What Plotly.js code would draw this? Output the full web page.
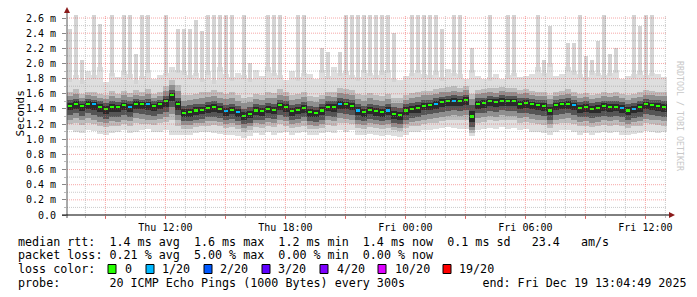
<!DOCTYPE html>
<html><head><meta charset="utf-8">
<script src="https://cdn.plot.ly/plotly-3.0.1.min.js"></script>
<style>html,body{margin:0;padding:0;background:#fff}#c{width:697px;height:297px}</style>
</head><body><div id="c"></div>
<script>
// ---- data (ms), 100 bins of 18 minutes, Thu 07:04:49 -> Fri 13:04:49 ----
const startTime = '2025-12-18T07:04:49Z';
const binMinutes = 18;
const median = [
1.44,1.47,1.44,1.47,1.46,1.42,1.40,1.43,1.42,1.45,
1.43,1.47,1.46,1.46,1.44,1.46,1.50,1.58,1.46,1.35,
1.36,1.38,1.39,1.41,1.42,1.40,1.37,1.39,1.36,1.31,
1.33,1.38,1.37,1.40,1.39,1.45,1.42,1.37,1.39,1.41,
1.36,1.35,1.38,1.43,1.42,1.47,1.46,1.44,1.38,1.36,
1.39,1.37,1.36,1.38,1.33,1.32,1.38,1.40,1.41,1.44,
1.45,1.47,1.49,1.50,1.51,1.50,1.52,1.30,1.47,1.48,
1.50,1.49,1.51,1.50,1.50,1.47,1.48,1.46,1.45,1.44,
1.38,1.45,1.46,1.47,1.45,1.41,1.42,1.40,1.41,1.44,
1.42,1.43,1.41,1.38,1.40,1.42,1.46,1.45,1.44,1.43];
const lossCount = [
0,0,0,0,1,0,0,0,0,0,
1,0,0,1,0,0,0,0,0,0,
0,0,0,0,0,0,1,0,1,0,
0,0,0,0,0,0,0,0,0,0,
0,0,0,0,0,1,0,0,1,0,
0,0,0,1,0,0,0,0,0,0,
0,1,0,0,1,0,0,0,0,0,
0,0,0,0,0,0,0,0,0,0,
0,0,0,0,1,0,0,0,0,0,
0,0,1,0,1,0,0,0,0,0];
const coreHi = [
1.52,1.53,1.50,1.53,1.52,1.50,1.48,1.51,1.49,1.52,
1.50,1.53,1.52,1.53,1.50,1.52,1.57,1.65,1.55,1.44,
1.45,1.46,1.47,1.49,1.50,1.48,1.45,1.47,1.44,1.40,
1.42,1.46,1.45,1.48,1.47,1.52,1.50,1.45,1.47,1.49,
1.44,1.43,1.46,1.50,1.50,1.54,1.53,1.52,1.46,1.44,
1.47,1.45,1.44,1.46,1.42,1.41,1.46,1.48,1.49,1.52,
1.52,1.54,1.56,1.57,1.58,1.57,1.59,1.45,1.54,1.55,
1.57,1.56,1.58,1.57,1.57,1.54,1.55,1.53,1.52,1.52,
1.47,1.52,1.53,1.54,1.52,1.49,1.50,1.48,1.49,1.51,
1.50,1.51,1.49,1.46,1.48,1.50,1.53,1.52,1.52,1.51];
const coreLo = [
1.32,1.34,1.31,1.34,1.32,1.29,1.27,1.30,1.29,1.32,
1.30,1.34,1.33,1.32,1.31,1.33,1.36,1.42,1.32,1.24,
1.24,1.26,1.27,1.29,1.30,1.28,1.25,1.27,1.24,1.20,
1.22,1.26,1.25,1.28,1.27,1.32,1.30,1.25,1.27,1.29,
1.24,1.23,1.26,1.31,1.30,1.34,1.33,1.32,1.26,1.24,
1.27,1.25,1.24,1.26,1.21,1.20,1.26,1.28,1.29,1.32,
1.33,1.34,1.36,1.37,1.38,1.37,1.38,1.16,1.34,1.35,
1.37,1.36,1.38,1.37,1.37,1.34,1.35,1.33,1.32,1.31,
1.26,1.32,1.33,1.34,1.32,1.29,1.30,1.28,1.29,1.31,
1.30,1.31,1.29,1.26,1.28,1.30,1.33,1.32,1.31,1.30];
const midHi = [
1.62,1.66,1.60,1.63,1.62,1.60,1.58,1.64,1.60,1.64,
1.61,1.65,1.63,1.66,1.60,1.62,1.70,1.78,1.72,1.58,
1.58,1.60,1.62,1.63,1.65,1.62,1.60,1.62,1.58,1.55,
1.56,1.60,1.58,1.62,1.61,1.66,1.63,1.58,1.60,1.62,
1.57,1.56,1.59,1.63,1.62,1.67,1.66,1.65,1.60,1.58,
1.61,1.58,1.57,1.60,1.55,1.54,1.58,1.61,1.62,1.64,
1.64,1.66,1.68,1.69,1.70,1.68,1.70,1.60,1.65,1.66,
1.68,1.67,1.69,1.68,1.68,1.65,1.66,1.64,1.63,1.63,
1.58,1.63,1.64,1.66,1.63,1.60,1.61,1.59,1.60,1.62,
1.61,1.62,1.60,1.58,1.60,1.62,1.65,1.64,1.63,1.62];
const midLo = [
1.20,1.22,1.19,1.22,1.20,1.17,1.16,1.18,1.17,1.20,
1.18,1.21,1.20,1.20,1.19,1.21,1.23,1.25,1.18,1.14,
1.14,1.16,1.17,1.18,1.19,1.17,1.15,1.16,1.14,1.10,
1.12,1.16,1.15,1.17,1.16,1.20,1.18,1.15,1.16,1.18,
1.14,1.13,1.15,1.19,1.18,1.22,1.21,1.20,1.15,1.14,
1.16,1.15,1.14,1.15,1.12,1.11,1.15,1.17,1.18,1.20,
1.21,1.22,1.24,1.25,1.26,1.25,1.26,1.08,1.22,1.23,
1.25,1.24,1.26,1.25,1.25,1.22,1.23,1.21,1.20,1.19,
1.15,1.20,1.21,1.22,1.20,1.17,1.18,1.16,1.17,1.19,
1.18,1.19,1.17,1.15,1.17,1.18,1.21,1.20,1.19,1.18];
const minRtt = [
1.12,1.10,1.08,1.12,1.11,1.07,1.06,1.08,1.10,1.12,
1.08,1.10,1.12,1.14,1.09,1.10,1.12,1.06,1.06,1.05,
1.06,1.08,1.09,1.10,1.08,1.07,1.05,1.06,1.04,1.02,
1.04,1.08,1.06,1.09,1.05,1.08,1.10,1.06,1.08,1.10,
1.06,1.05,1.08,1.10,1.08,1.12,1.10,1.12,1.06,1.05,
1.07,1.06,1.04,1.05,1.04,1.03,1.06,1.09,1.10,1.12,
1.12,1.14,1.15,1.16,1.15,1.14,1.13,1.04,1.12,1.13,
1.15,1.14,1.16,1.14,1.15,1.12,1.13,1.10,1.09,1.08,
1.06,1.10,1.12,1.12,1.10,1.06,1.08,1.06,1.08,1.10,
1.08,1.09,1.06,1.05,1.07,1.08,1.11,1.10,1.08,1.09];
const lightTop = [
1.80,1.85,1.78,1.90,1.85,1.95,1.75,1.88,1.82,1.90,
1.86,1.78,1.84,1.92,1.80,1.85,1.88,1.95,1.92,1.90,
1.85,1.88,1.80,1.90,1.78,1.95,1.86,1.82,1.88,1.85,
1.80,1.92,1.84,1.95,1.88,1.85,1.78,1.90,1.82,1.88,
1.86,1.80,1.92,1.84,1.95,1.88,1.90,1.85,1.82,1.92,
1.88,1.85,1.90,1.92,1.80,1.78,1.84,1.88,1.92,1.86,
1.85,1.90,1.82,1.93,1.88,1.86,1.80,1.92,1.84,1.80,
1.82,1.86,1.80,1.85,1.88,1.82,1.84,1.86,1.95,1.88,
2.00,1.84,1.86,1.95,1.90,1.86,1.82,1.90,1.88,1.85,
1.88,1.92,1.80,1.84,1.86,1.90,1.85,1.88,1.86,1.82];
const maxRtt = [
2.45,2.64,2.05,0,2.64,2.52,0,2.64,0,2.64,
2.64,2.12,2.64,2.64,0,0,2.64,1.92,2.45,2.45,
2.45,2.58,2.43,2.64,2.64,2.64,2.64,2.64,0,2.64,
2.00,0,0,2.64,2.64,2.64,0,0,2.64,2.64,
0,0,2.20,2.15,0,2.15,2.64,2.64,2.64,2.64,
2.64,2.64,2.64,2.64,2.40,0,0,2.64,2.64,2.64,
2.64,2.64,2.45,1.93,2.64,2.64,0,2.20,0,0,
2.64,0,0,2.64,2.64,0,0,0,2.64,2.05,
2.50,0,0,2.27,2.27,2.64,2.10,2.05,2.30,2.64,
2.12,2.20,0,0,2.64,2.50,2.64,2.64,0,0];
const yTickVals = [0,0.2,0.4,0.6,0.8,1.0,1.2,1.4,1.6,1.8,2.0,2.2,2.4,2.6];
const yTickText = ['0.0','0.2 m','0.4 m','0.6 m','0.8 m','1.0 m','1.2 m','1.4 m','1.6 m','1.8 m','2.0 m','2.2 m','2.4 m','2.6 m'];
const xTickTimes = ['2025-12-18 09:00','2025-12-18 12:00','2025-12-18 15:00','2025-12-18 18:00','2025-12-18 21:00',
                    '2025-12-19 00:00','2025-12-19 03:00','2025-12-19 06:00','2025-12-19 09:00','2025-12-19 12:00'];
const xTickText = ['','Thu 12:00','','Thu 18:00','','Fri 00:00','','Fri 06:00','','Fri 12:00'];
const lossLabels = ['0','1/20','2/20','3/20','4/20','10/20','19/20'];
const lossColors = ['#26ff00','#00b8ff','#0059ff','#5e00ff','#7e00ff','#dd00ff','#ff0000'];
const legendLines = [
 'median rtt:  1.4 ms avg  1.6 ms max  1.2 ms min  1.4 ms now  0.1 ms sd   23.4   am/s',
 'packet loss: 0.21 % avg  5.00 % max  0.00 % min  0.00 % now',
 'loss color:',
 'probe:       20 ICMP Echo Pings (1000 Bytes) every 300s           end: Fri Dec 19 13:04:49 2025'];

// ---- layout helpers (pixel geometry) ----
const W=697,H=297,L=67,R=30,T=15,B=82, PW=W-L-R, PH=H-T-B;
const px = x => (x-L)/PW, py = y => (T+PH-y)/PH;
const t0 = Date.parse(startTime), binMs = binMinutes*60000, spanMs = 30*3600000;
const fmt = ms => new Date(ms).toISOString().slice(0,19).replace('T',' ');
const xs = median.map((_,i)=>fmt(t0+(i+0.5)*binMs));
const sub = (a,b)=>a.map((v,i)=>v-b[i]);
const avg = (a,b)=>a.map((v,i)=>(v+b[i])/2);
const mono = 'DejaVu Sans Mono';

const lossIdx = c => c===0?0:(c<=1?1:(c<=2?2:(c<=3?3:(c<=5?4:(c<=10?5:6)))));
const spikeX=[],spikeBase=[],spikeH=[];
maxRtt.forEach((v,i)=>{ if(v>lightTop[i]){spikeX.push(xs[i]);spikeBase.push(lightTop[i]-0.05);spikeH.push(v-lightTop[i]+0.05);} });

const bar = (x,lo,hi,color,w)=>({type:'bar',x:x,base:lo,y:sub(hi,lo),width:w,marker:{color:color,line:{width:0}},hoverinfo:'skip',showlegend:false});
const midUp = avg(midHi,coreHi), midDn = avg(midLo,coreLo);
const coreUp = avg(coreHi,median), coreDn = avg(coreLo,median);
const traces = [
 bar(xs,minRtt,lightTop,'#dedede',binMs),
 {type:'bar',x:spikeX,base:spikeBase,y:spikeH,width:binMs*0.6,marker:{color:'#d4d4d4',line:{width:0}},hoverinfo:'skip',showlegend:false},
 bar(xs,midLo,midHi,'#bcbcbc',binMs),
 bar(xs,midDn,midUp,'#8f8f8f',binMs),
 bar(xs,coreLo,coreHi,'#555555',binMs),
 bar(xs,coreDn,coreUp,'#2a2a2a',binMs),
 {type:'bar',x:xs,base:median.map(v=>v-0.014),y:median.map(()=>0.028),width:binMs*0.7,marker:{color:lossCount.map(c=>lossColors[lossIdx(c)]),line:{width:0}},hoverinfo:'skip',showlegend:false}
];

const ann=[], shapes=[];
// grid drawn above the smoke, like rrdtool
const RED='rgba(235,60,60,0.45)', GRAY='rgba(140,140,140,0.45)', DOT='1px,1px';
for(let k=1;k<=26;k++){ const v=k*0.1; const major = k%2===0;
  shapes.push({type:'line',layer:'above',xref:'paper',yref:'y',x0:0,x1:1,y0:v,y1:v,line:{color:major?RED:GRAY,width:1,dash:DOT}}); }
const hr0 = Date.parse('2025-12-18T08:00:00Z');
for(let h=0; hr0+h*3600000 < t0+spanMs; h++){ const t=hr0+h*3600000; const major=((8+h)%3===0);
  shapes.push({type:'line',layer:'above',xref:'x',yref:'paper',x0:fmt(t),x1:fmt(t),y0:0,y1:1,line:{color:major?RED:GRAY,width:1,dash:DOT}}); }

const lineY=[241.5,255,269,282.7];
legendLines.forEach((t,i)=>ann.push({xref:'paper',yref:'paper',x:px(16),y:py(lineY[i]),xanchor:'left',yanchor:'middle',showarrow:false,text:t,font:{family:mono,size:11.7,color:'#000'}}));
const boxX=[108,146,204,262,320,378,443], labX=[123,160,218,276,335,393,457];
lossLabels.forEach((t,i)=>{
  shapes.push({type:'rect',xref:'paper',yref:'paper',x0:px(boxX[i]),x1:px(boxX[i]+8),y0:py(264.5),y1:py(273.5),fillcolor:lossColors[i],line:{color:'#000',width:1}});
  ann.push({xref:'paper',yref:'paper',x:px(labX[i]),y:py(269),xanchor:'left',yanchor:'middle',showarrow:false,text:t,font:{family:mono,size:11.7,color:'#000'}});
});
ann.push({xref:'paper',yref:'paper',x:px(11),y:py(114),textangle:-90,showarrow:false,text:'Seconds',font:{family:mono,size:11,color:'#000'}});
ann.push({xref:'paper',yref:'paper',x:px(687),y:py(59),textangle:90,showarrow:false,text:'RRDTOOL / TOBI OETIKER',font:{family:mono,size:8.3,color:'#c8c8c8'}});
// axis lines + arrows
shapes.push({type:'line',layer:'above',xref:'paper',yref:'paper',x0:px(67),x1:px(67),y0:py(218),y1:py(11),line:{color:'#555',width:1}});
shapes.push({type:'line',layer:'above',xref:'paper',yref:'paper',x0:px(62),x1:px(670),y0:py(215),y1:py(215),line:{color:'#000',width:1}});
shapes.push({type:'path',xref:'paper',yref:'paper',path:`M ${px(64)} ${py(13)} L ${px(70)} ${py(13)} L ${px(67)} ${py(7)} Z`,fillcolor:'#8b1a1a',line:{width:0}});
shapes.push({type:'path',xref:'paper',yref:'paper',path:`M ${px(669)} ${py(212)} L ${px(669)} ${py(218)} L ${px(675)} ${py(215)} Z`,fillcolor:'#8b1a1a',line:{width:0}});

const layout = {
  width:W,height:H,margin:{l:L,r:R,t:T,b:B},paper_bgcolor:'#fff',plot_bgcolor:'#fff',
  barmode:'overlay',bargap:0,showlegend:false,
  xaxis:{type:'date',range:[fmt(t0),fmt(t0+spanMs)],tickmode:'array',tickvals:xTickTimes,ticktext:xTickText,
    showgrid:false,zeroline:false,showline:false,
    ticks:'outside',ticklen:3,tickcolor:'rgba(220,80,80,0.8)',tickfont:{family:mono,size:10,color:'#000'},
    minor:{tickmode:'linear',tick0:'2025-12-18 08:00',dtick:3600000,showgrid:false,ticks:'outside',ticklen:2,tickcolor:'#bbb'},
    fixedrange:true},
  yaxis:{range:[0,2.64],tickmode:'array',tickvals:yTickVals,ticktext:yTickText,showgrid:false,
    zeroline:false,showline:false,ticks:'outside',ticklen:4,tickcolor:'#888',ticklabelstandoff:4,tickfont:{family:mono,size:10,color:'#000'},
    minor:{tickmode:'linear',tick0:0,dtick:0.1,showgrid:false,ticks:'outside',ticklen:2,tickcolor:'#bbb'},
    fixedrange:true},
  annotations:ann, shapes:shapes
};
Plotly.newPlot('c',traces,layout,{staticPlot:true,displayModeBar:false});
</script></body></html>
